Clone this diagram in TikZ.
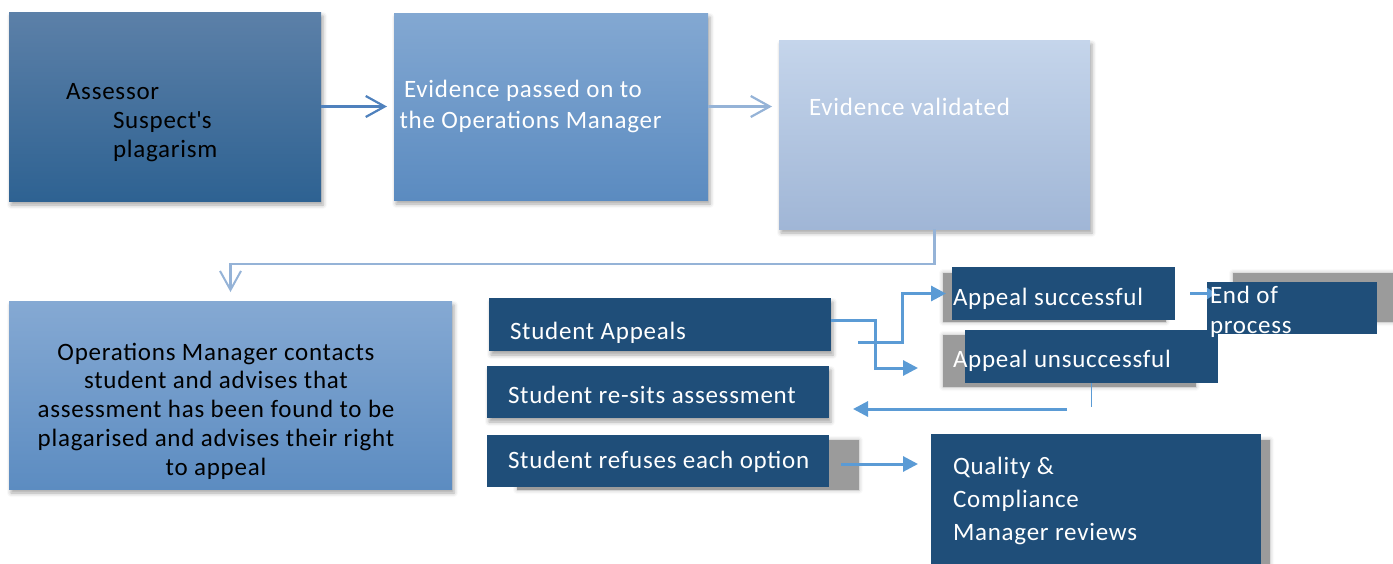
\documentclass[tikz,border=0pt]{standalone}
\usepackage{fontspec}
\setmainfont{Carlito}[LetterSpace=3.0]
\usetikzlibrary{arrows.meta,shadows.blur,calc}
\definecolor{dk}{RGB}{31,78,121}
\definecolor{lk}{RGB}{91,155,213}
\definecolor{aone}{RGB}{79,129,189}
\definecolor{atwo}{RGB}{149,179,215}
\definecolor{shg}{RGB}{155,155,155}
\definecolor{bonet}{RGB}{92,128,168}
\definecolor{boneb}{RGB}{46,98,146}
\definecolor{btwot}{RGB}{131,168,210}
\definecolor{btwob}{RGB}{91,139,192}
\definecolor{bthreet}{RGB}{197,213,235}
\definecolor{bthreeb}{RGB}{160,182,214}
\definecolor{bfourt}{RGB}{133,169,211}
\definecolor{bfourb}{RGB}{92,140,193}
\tikzset{
  boxbase/.style={rectangle,draw=none,inner sep=0pt,outer sep=0pt,anchor=north west},
  soft/.style={blur shadow={shadow xshift=2pt,shadow yshift=-4pt,shadow blur radius=4pt,shadow opacity=35}},
  gbox/.style 2 args={boxbase,soft,top color=#1,bottom color=#2},
  dbox/.style={boxbase,fill=dk},
  shbox/.style={boxbase,fill=shg,blur shadow={shadow xshift=0pt,shadow yshift=0pt,shadow blur radius=4pt,shadow opacity=30}},
  txt/.style={inner sep=0pt,outer sep=0pt,anchor=base west,font=\fontsize{25}{29}\selectfont},
  wtxt/.style={txt,text=white},
  openarr/.style={line width=2.4pt,-{Straight Barb[length=19pt,width=21pt,line width=2.2pt]}},
  lkline/.style={draw=lk,line width=3pt},
  lkarr/.style={lkline,-{Triangle[length=15pt,width=15pt]}}
}
\begin{document}
\begin{tikzpicture}[x=1pt,y=-1pt]
\useasboundingbox (0,0) rectangle (1393,563);
% top row boxes
\node[gbox={bonet}{boneb},minimum width=312pt,minimum height=189pt] (assessor) at (9,12) {};
\node[gbox={btwot}{btwob},minimum width=314pt,minimum height=187pt] (passed) at (394,13) {};
\node[gbox={bthreet}{bthreeb},minimum width=311pt,minimum height=189pt] (valid) at (779,40) {};
\node[gbox={bfourt}{bfourb},minimum width=443pt,minimum height=188pt] (contact) at (9,301) {};
% shadows of dark boxes
\node[shbox,minimum width=342pt,minimum height=50pt] (refsh) at (517,440) {};
\node[shbox,minimum width=223pt,minimum height=49pt] (succsh) at (943,273) {};
\node[shbox,minimum width=175pt,minimum height=49pt] (endsh) at (1233,273) {};
\node[shbox,minimum width=253pt,minimum height=52pt] (unsh) at (943,335) {};
\node[shbox,minimum width=330pt,minimum height=140pt] (qsh) at (940,440) {};
% dark boxes
\node[dbox,soft,minimum width=342pt,minimum height=53pt] (appeals) at (489,298) {};
\node[dbox,soft,minimum width=342pt,minimum height=52pt] (resits) at (487,366) {};
\node[dbox,minimum width=342pt,minimum height=52pt] (refuses) at (487,435) {};
\node[dbox,minimum width=223pt,minimum height=53pt] (succ) at (952,267) {};
\node[dbox,minimum width=253pt,minimum height=53pt] (unsucc) at (965,330) {};
\node[dbox,minimum width=330pt,minimum height=140pt] (quality) at (931,434) {};
\node[dbox,minimum width=170pt,minimum height=52pt] (endp) at (1207,282) {};
% texts
\node[txt] (t1a) at (66,99) {Assessor};
\node[txt] (t1b) at (113,128) {Suspect\textquotesingle s};
\node[txt] (t1c) at (113,157) {plagarism};
\node[wtxt] (t2a) at (404,97) {Evidence passed on to};
\node[wtxt] (t2b) at (399.5,128) {the Operations Manager};
\node[wtxt] (t3) at (809,115) {Evidence validated};
\node[txt,anchor=base,align=center,font=\fontsize{25}{28.75}\selectfont] (t4) at (216,475)
  {Operations Manager contacts\\student and advises that\\assessment has been found to be\\plagarised and advises their right\\to appeal};
\node[wtxt] (t5) at (510,339) {Student Appeals};
\node[wtxt] (t6) at (508,403) {Student re-sits assessment};
\node[wtxt] (t7) at (508,468) {Student refuses each option};
\node[wtxt] (t8) at (953,305) {Appeal successful};
\node[wtxt] (t9) at (953,367) {Appeal unsuccessful};
\node[wtxt] (t10a) at (953,474) {Quality \&};
\node[wtxt] (t10b) at (953,507) {Compliance};
\node[wtxt] (t10c) at (953,540) {Manager reviews};
% connectors top
\draw[aone,openarr,shorten >=7pt] (assessor.east) -- (assessor.east -| passed.west);
\draw[atwo,openarr,shorten >=7pt] (passed.east) -- (passed.east -| valid.west);
\draw[atwo,line width=2.2pt,-{Straight Barb[length=19pt,width=21pt,line width=2pt]},shorten >=9pt]
  (valid.south) -- ++(0,35) -| (contact.north);
% appeals connectors
\coordinate (uin) at (918,368);
\coordinate (sfrom) at (858,342);
\coordinate (rfrom) at (1067,409);
\draw[lkarr] ([yshift=4pt]appeals.east) -- ++(44,0) |- (uin);
\draw[lkarr,shorten >=6pt] (sfrom) -- ++(44,0) |- (succ.west);
\draw[draw=lk,line width=1.6pt] (unsucc.south) -- ++(0,24);
\draw[lkarr,shorten >=24pt] (rfrom) -- (rfrom -| resits.east);
\draw[lkarr,shorten <=12pt,shorten >=13pt] ([yshift=-3pt]refuses.east) -- ([yshift=-3pt]refuses.east -| quality.west);
\draw[lkarr,shorten <=15pt,shorten >=-9pt,-{Triangle[length=9pt,width=11pt]}] (succ.east) -- (succ.east -| endp.west);
\node[wtxt] (t11a) at (1210,303) {End of};
\node[wtxt] (t11b) at (1210,333) {process};
\end{tikzpicture}
\end{document}
